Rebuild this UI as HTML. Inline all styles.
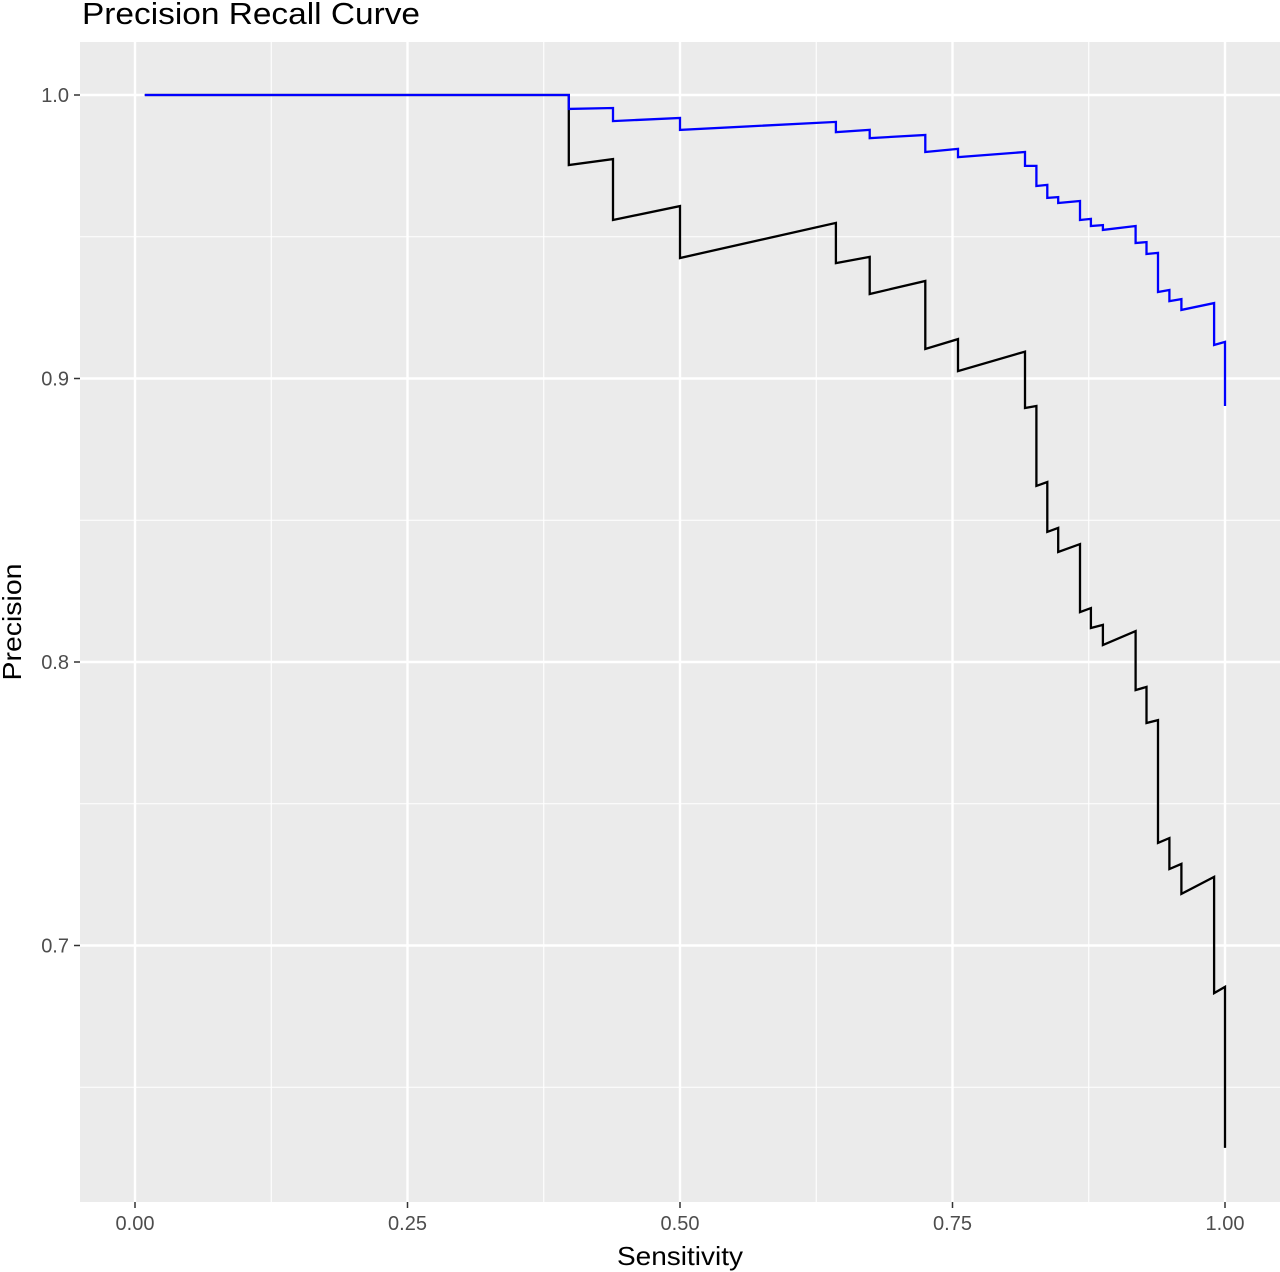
<!DOCTYPE html>
<html><head><meta charset="utf-8"><style>
html,body{margin:0;padding:0;background:#fff;}
svg{display:block;font-family:"Liberation Sans",Arial,sans-serif;}
</style></head><body>
<svg id="chart" width="1280" height="1272" viewBox="0 0 1280 1272" xmlns="http://www.w3.org/2000/svg">
<text x="82" y="24" font-size="31" textLength="338" lengthAdjust="spacingAndGlyphs" fill="#000">Precision Recall Curve</text>
<rect x="80" y="42" width="1200" height="1160" fill="#ebebeb"/>
<g id="grid"></g>
<g id="series"></g>
<g id="axes"></g>
<text x="680" y="1265" font-size="26" text-anchor="middle" textLength="126" lengthAdjust="spacingAndGlyphs" fill="#000">Sensitivity</text>
<text transform="translate(21,622) rotate(-90)" font-size="26" text-anchor="middle" textLength="117" lengthAdjust="spacingAndGlyphs" fill="#000">Precision</text>
</svg>
<script>
const xTicks = [0, 0.25, 0.5, 0.75, 1.0];
const xTickLabels = ["0.00", "0.25", "0.50", "0.75", "1.00"];
const yTicks = [0.7, 0.8, 0.9, 1.0];
const yTickLabels = ["0.7", "0.8", "0.9", "1.0"];
const xMinor = [0.125, 0.375, 0.625, 0.875];
const yMinor = [0.65, 0.75, 0.85, 0.95];
const blackRecall = [0.009,0.398,0.398,0.4385,0.4385,0.5,0.5,0.643,0.643,0.674,0.674,0.725,0.725,0.755,0.755,0.8165,0.8165,0.827,0.827,0.837,0.837,0.847,0.847,0.867,0.867,0.877,0.877,0.888,0.888,0.918,0.918,0.928,0.928,0.9385,0.9385,0.949,0.949,0.96,0.96,0.99,0.99,1.0,1.0];
const blackPrecision = [1.0,1.0,0.9753,0.9774,0.9559,0.9608,0.9425,0.9549,0.9407,0.9429,0.9298,0.9344,0.9104,0.9139,0.9026,0.9095,0.8896,0.8903,0.8621,0.8635,0.8459,0.8473,0.8388,0.8416,0.8176,0.819,0.812,0.8131,0.806,0.8109,0.7901,0.7912,0.7785,0.7795,0.7362,0.7379,0.727,0.7288,0.7182,0.7242,0.6832,0.6854,0.6286];
const blueRecall = [0.009,0.398,0.398,0.4385,0.4385,0.5,0.5,0.643,0.643,0.674,0.674,0.725,0.725,0.755,0.755,0.8165,0.8165,0.827,0.827,0.837,0.837,0.847,0.847,0.867,0.867,0.877,0.877,0.888,0.888,0.918,0.918,0.928,0.928,0.9385,0.9385,0.949,0.949,0.96,0.96,0.99,0.99,1.0,1.0];
const bluePrecision = [1.0,1.0,0.9951,0.9954,0.9908,0.9919,0.9877,0.9905,0.9869,0.9877,0.9848,0.9859,0.9799,0.981,0.9781,0.9799,0.975,0.975,0.9679,0.9683,0.9637,0.964,0.9619,0.9626,0.9559,0.9563,0.9538,0.9541,0.9524,0.9538,0.9478,0.9481,0.9439,0.9443,0.9305,0.9312,0.9273,0.928,0.9242,0.9266,0.9118,0.9129,0.8903];

const NS = "http://www.w3.org/2000/svg";
function xs(v){ return 135 + v * 1090; }
function ys(v){ return 95 + (1 - v) * 2835; }
function mk(tag, attrs, parent){
  const e = document.createElementNS(NS, tag);
  for (const k in attrs) e.setAttribute(k, attrs[k]);
  parent.appendChild(e);
  return e;
}
const grid = document.getElementById("grid");
const axes = document.getElementById("axes");
const series = document.getElementById("series");

xMinor.forEach(v => {
  const l = mk("line", {x1: xs(v), x2: xs(v), y1: 42, y2: 1202, stroke: "#fff", "stroke-width": 1.1}, grid);
  
  
});
yMinor.forEach(v => {
  const l = mk("line", {x1: 80, x2: 1280, y1: ys(v), y2: ys(v), stroke: "#fff", "stroke-width": 1.1}, grid);
  
  
});
xTicks.forEach((v, i) => {
  const l = mk("line", {x1: xs(v), x2: xs(v), y1: 42, y2: 1202, stroke: "#fff", "stroke-width": 2.4}, grid);
  
  
  const t = mk("line", {x1: xs(v), x2: xs(v), y1: 1202, y2: 1208, stroke: "#333", "stroke-width": 1.5}, axes);
  
  
  const tx = mk("text", {x: xs(v), y: 1230, "font-size": 20, fill: "#4d4d4d", "text-anchor": "middle"}, axes);
  tx.textContent = xTickLabels[i];
  
  
});
yTicks.forEach((v, i) => {
  const l = mk("line", {x1: 80, x2: 1280, y1: ys(v), y2: ys(v), stroke: "#fff", "stroke-width": 2.4}, grid);
  
  
  const t = mk("line", {x1: 74, x2: 80, y1: ys(v), y2: ys(v), stroke: "#333", "stroke-width": 1.5}, axes);
  
  
  const tx = mk("text", {x: 69, y: ys(v) + 7, "font-size": 20, fill: "#4d4d4d", "text-anchor": "end"}, axes);
  tx.textContent = yTickLabels[i];
  
  
});
function pathFrom(xa, ya){
  return xa.map((x, i) => (i ? "L" : "M") + xs(x).toFixed(1) + "," + ys(ya[i]).toFixed(1)).join(" ");
}
const pb = mk("path", {d: pathFrom(blackRecall, blackPrecision), fill: "none", stroke: "#000", "stroke-width": 2.3, "stroke-linejoin": "miter"}, series);


const pu = mk("path", {d: pathFrom(blueRecall, bluePrecision), fill: "none", stroke: "#0000ff", "stroke-width": 2.3, "stroke-linejoin": "miter"}, series);


</script>
</body></html>
